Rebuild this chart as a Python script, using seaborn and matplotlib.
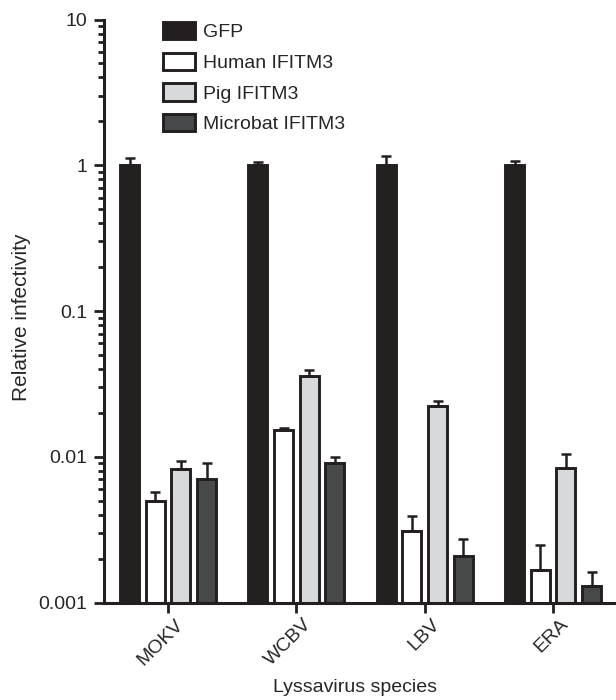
import pandas as pd
import numpy as np
import matplotlib
matplotlib.use('Agg')
import matplotlib.pyplot as plt
import matplotlib.patches as mpatches
import matplotlib.ticker as mticker
import matplotlib.transforms as mtransforms
import seaborn as sns

# Data (relative infectivity, mean and upper error)
viruses = ['MOKV', 'WCBV', 'LBV', 'ERA']
constructs = ['GFP', 'Human IFITM3', 'Pig IFITM3', 'Microbat IFITM3']

gfp = [1.0, 1.0, 1.0, 1.0]
human = [0.0050, 0.0152, 0.0031, 0.00168]
pig = [0.0083, 0.036, 0.0224, 0.0084]
microbat = [0.0070, 0.0091, 0.00207, 0.0013]

gfp_err = [0.12, 0.05, 0.16, 0.065]
human_err = [0.0007, 0.0006, 0.0008, 0.00079]
pig_err = [0.0011, 0.0035, 0.0019, 0.0020]
microbat_err = [0.0020, 0.0008, 0.00067, 0.00032]

colors = ['#231f20', '#ffffff', '#d8d9da', '#47494a']
edge = '#231f20'

values = [gfp, human, pig, microbat]
errors = [gfp_err, human_err, pig_err, microbat_err]

rows = []
for name, vals in zip(constructs, values):
    for v, val in zip(viruses, vals):
        rows.append({'virus': v, 'construct': name, 'value': val})
df = pd.DataFrame(rows)

sns.set_style('ticks')
plt.rcParams['font.family'] = ['Liberation Sans', 'DejaVu Sans']
plt.rcParams['font.size'] = 14

fig = plt.figure(figsize=(6.16, 7), dpi=100)
ax = fig.add_axes([104 / 616, 97.5 / 700, 512 / 616, 583 / 700])

sns.barplot(data=df, x='virus', y='value', hue='construct',
            order=viruses, hue_order=constructs, palette=colors,
            gap=0.26, edgecolor=edge, linewidth=2.1, errorbar=None,
            legend=False, ax=ax)

# upper-only error bars on the seaborn bars
for cont, errs in zip(ax.containers, errors):
    xs = [b.get_x() + b.get_width() / 2 for b in cont]
    hs = [b.get_height() for b in cont]
    ax.errorbar(xs, hs, yerr=[np.zeros(len(errs)), errs], fmt='none',
                ecolor=edge, elinewidth=1.8, capsize=3.8, capthick=1.8,
                zorder=1)

ax.set_yscale('log')
ax.set_ylim(0.001, 10)
ax.set_xlim(-0.5, 3.49)

ax.yaxis.set_major_locator(mticker.FixedLocator([0.001, 0.01, 0.1, 1, 10]))
ax.yaxis.set_major_formatter(mticker.FixedFormatter(['0.001', '0.01', '0.1', '1', '10']))
ax.yaxis.set_minor_locator(mticker.LogLocator(base=10, subs=np.arange(2, 10)))
ax.yaxis.set_minor_formatter(mticker.NullFormatter())

for s in ['top', 'right']:
    ax.spines[s].set_visible(False)
for s in ['left', 'bottom']:
    ax.spines[s].set_linewidth(2.2)
    ax.spines[s].set_color(edge)

ax.tick_params(axis='both', which='major', length=7, width=2.0, color=edge,
               labelsize=14, pad=5, direction='out')
ax.tick_params(axis='y', which='minor', length=4.5, width=2.0, color=edge,
               direction='out')

offset = mtransforms.ScaledTranslation(9 / 72, -2 / 72, fig.dpi_scale_trans)
for lab in ax.get_xticklabels():
    lab.set_rotation(45)
    lab.set_ha('right')
    lab.set_va('center')
    lab.set_rotation_mode('anchor')
    lab.set_transform(lab.get_transform() + offset)

ax.set_xlabel('Lyssavirus species', fontsize=14)
ax.set_ylabel('Relative infectivity', fontsize=15)
ax.xaxis.set_label_coords(0.49, -0.131)
ax.yaxis.set_label_coords(-0.1426, 0.49)

handles = [mpatches.Patch(facecolor=c, edgecolor=edge, linewidth=2.1, label=n)
           for c, n in zip(colors, constructs)]
ax.legend(handles=handles, loc='upper left',
          bbox_to_anchor=(163 / 616, 1 - 22 / 700),
          bbox_transform=fig.transFigure, frameon=False, fontsize=14,
          borderaxespad=0, borderpad=0, handlelength=1.65,
          handleheight=1.0, labelspacing=0.58, handletextpad=0.4)

plt.savefig('out.png', dpi=100)
plt.close()
